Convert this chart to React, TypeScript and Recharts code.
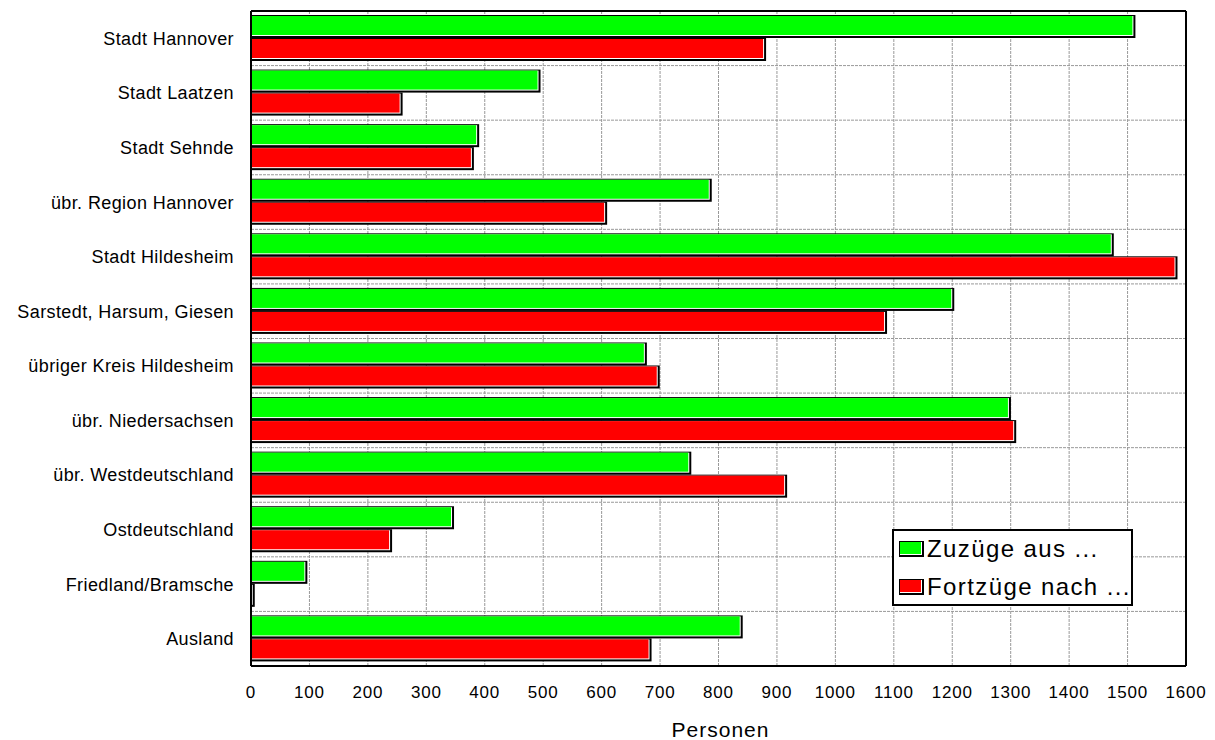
import React from 'react';
import { BarChart, Bar, XAxis, YAxis, CartesianGrid, Legend } from 'recharts';

const categories = [
  'Stadt Hannover',
  'Stadt Laatzen',
  'Stadt Sehnde',
  'übr. Region Hannover',
  'Stadt Hildesheim',
  'Sarstedt, Harsum, Giesen',
  'übriger Kreis Hildesheim',
  'übr. Niedersachsen',
  'übr. Westdeutschland',
  'Ostdeutschland',
  'Friedland/Bramsche',
  'Ausland',
];

const zuzuege = [1510, 492, 387, 785, 1473, 1200, 674, 1297, 750, 344, 93, 838];
const fortzuege = [878, 256, 378, 606, 1582, 1085, 696, 1306, 914, 238, 3, 682];

const seriesNames = ['Zuzüge aus ...', 'Fortzüge nach ...'];
const seriesColors = ['#00ff00', '#ff0000'];

const xTicks = [0, 100, 200, 300, 400, 500, 600, 700, 800, 900, 1000, 1100, 1200, 1300, 1400, 1500, 1600];

const data = categories.map((name, i) => ({ name, zu: zuzuege[i], fort: fortzuege[i] }));

const FONT = '"Liberation Sans", Arial, sans-serif';

const ShadowBar = (props: any) => {
  const { x, y, width, height, fill } = props;
  const w = Math.max(width || 0, 0);
  return (
    <g>
      <rect x={x} y={y} width={w + 2} height={height} fill="#000" />
      <rect x={x + 1} y={y + 1} width={Math.max(w - 1, 0)} height={Math.max(height - 3, 0)} fill="#fff" />
      <rect x={x + 1} y={y + 1} width={Math.max(w - 2, 0)} height={Math.max(height - 4, 0)} fill={fill} />
    </g>
  );
};

const YTick = (props: any) => {
  const { x, y, payload } = props;
  return (
    <text x={x} y={y} dy={6.5} textAnchor="end" fill="#000" fontSize={18} fontFamily={FONT} letterSpacing={0.4}>
      {payload.value}
    </text>
  );
};

const XTick = (props: any) => {
  const { x, y, payload } = props;
  return (
    <text x={x} y={y} dy={12} textAnchor="middle" fill="#000" fontSize={17} fontFamily={FONT} letterSpacing={0.8}>
      {payload.value}
    </text>
  );
};

const AxisTitle = (props: any) => {
  const vb = props.viewBox || {};
  return (
    <text
      x={vb.x + vb.width / 2 + 2}
      y={vb.y + vb.height - 3.5}
      textAnchor="middle"
      fill="#000"
      fontSize={21}
      fontFamily={FONT}
      letterSpacing={1}
    >
      Personen
    </text>
  );
};

const LegendBox = () => {
  return (
    <svg width={241} height={77} style={{ display: 'block' }}>
      <rect x={1} y={1} width={239} height={75} fill="#fff" stroke="#000" strokeWidth={2} />
      {seriesNames.map((n, i) => {
        const sy = 12 + i * 38;
        return (
          <g key={n}>
            <rect x={7} y={sy} width={25} height={16} fill="#000" />
            <rect x={8} y={sy + 1} width={22} height={13} fill="#fff" />
            <rect x={8} y={sy + 1} width={21} height={12} fill={seriesColors[i]} />
            <text x={35} y={sy + 16} fontSize={24} fontFamily={FONT} fill="#000" letterSpacing={1.4}>
              {n}
            </text>
          </g>
        );
      })}
    </svg>
  );
};

const horizontalGen = (props: any) => {
  const off = props.offset || {};
  const top = off.top ?? 11;
  const h = off.height ?? 655;
  const n = categories.length;
  const res: number[] = [];
  for (let i = 1; i < n; i++) res.push(top + (i * h) / n);
  return res;
};

export default function App() {
  return (
    <div style={{ position: 'absolute', left: 0, top: 0, width: 1215, height: 740, background: '#fff' }}>
      <BarChart
        width={1215}
        height={740}
        data={data}
        layout="vertical"
        margin={{ top: 10, right: 28, left: 0, bottom: 0 }}
        barSize={23}
        barGap={0}
      >
        <CartesianGrid
          stroke="#999"
          strokeDasharray="3 1"
          horizontalCoordinatesGenerator={horizontalGen}
        />
        <XAxis
          type="number"
          domain={[0, 1600]}
          ticks={xTicks}
          interval={0}
          height={74}
          tickLine={false}
          tickSize={0}
          tickMargin={20}
          tick={<XTick />}
          axisLine={{ stroke: '#000', strokeWidth: 2 }}
          label={<AxisTitle />}
        />
        <XAxis
          xAxisId="top"
          orientation="top"
          type="number"
          domain={[0, 1600]}
          ticks={xTicks}
          height={1}
          tick={false}
          tickLine={false}
          axisLine={{ stroke: '#000', strokeWidth: 2 }}
        />
        <YAxis
          type="category"
          dataKey="name"
          width={251}
          tickLine={false}
          tickSize={0}
          tickMargin={17}
          interval={0}
          tick={<YTick />}
          axisLine={{ stroke: '#000', strokeWidth: 2 }}
        />
        <YAxis
          yAxisId="right"
          orientation="right"
          type="category"
          dataKey="name"
          width={1}
          tick={false}
          tickLine={false}
          axisLine={{ stroke: '#000', strokeWidth: 2 }}
        />
        <Legend
          layout="horizontal"
          verticalAlign="middle"
          align="center"
          content={<LegendBox />}
          wrapperStyle={{ left: 892, top: 529, width: 241, height: 77 }}
        />
        <Bar dataKey="zu" name={seriesNames[0]} fill={seriesColors[0]} shape={<ShadowBar />} isAnimationActive={false} />
        <Bar dataKey="fort" name={seriesNames[1]} fill={seriesColors[1]} shape={<ShadowBar />} isAnimationActive={false} />
      </BarChart>
    </div>
  );
}
